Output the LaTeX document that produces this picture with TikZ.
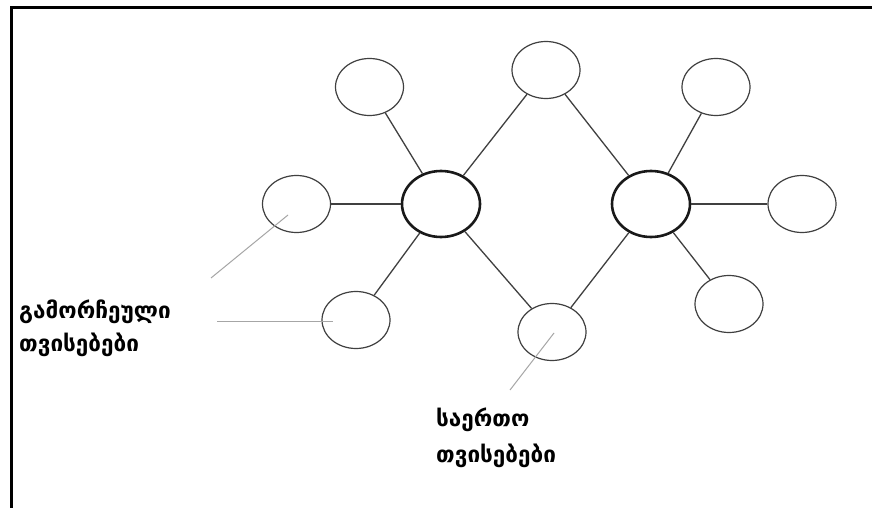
\documentclass[tikz,border=0pt]{standalone}
\usepackage{fontspec}
\newfontfamily\geo{DejaVu Sans}
\usetikzlibrary{shapes.geometric}
\begin{document}
\begin{tikzpicture}[x=1pt,y=-1pt,
  small/.style={ellipse,draw=black!75,line width=1.2pt,minimum width=68pt,minimum height=57pt,inner sep=0pt},
  hub/.style={ellipse,draw=black!90,line width=2.6pt,minimum width=78pt,minimum height=66pt,inner sep=0pt},
  link/.style={draw=black!75,line width=1.3pt},
  pointer/.style={draw=black!35,line width=1pt},
  lbl/.style={font=\geo\bfseries\fontsize{22.5}{33}\selectfont,anchor=base west,align=left,inner sep=0pt}]
\useasboundingbox (0,0) rectangle (872,508);
\fill[white] (0,0) rectangle (872,508);
\draw[line width=3.5pt] (11.5,508) -- (11.5,7.5) -- (872,7.5);
\node[hub] (h1) at (441,204) {};
\node[hub] (h2) at (651,204) {};
\node[small] (tl) at (369.5,87) {};
\node[small] (tc) at (546,70) {};
\node[small] (l) at (296.5,204) {};
\node[small] (ll) at (356,320) {};
\node[small] (bc) at (552,332) {};
\node[small] (tr) at (716,87) {};
\node[small] (r) at (802,204) {};
\node[small] (lr) at (729,304) {};
\foreach \a/\b in {h1/tl,h1/tc,h1/l,h1/ll,h1/bc,h2/tc,h2/tr,h2/r,h2/lr,h2/bc}
  \path[link] (\a) -- (\b);
\coordinate (p1a) at (211,278);
\coordinate (p1b) at (288,215);
\coordinate (p2a) at (217,321.5);
\coordinate (p2b) at (333,321.5);
\coordinate (p3a) at (510,390);
\coordinate (p3b) at (554,333);
\draw[pointer] (p1a) -- (p1b);
\draw[pointer] (p2a) -- (p2b);
\draw[pointer] (p3a) -- (p3b);
\node[lbl] (t1) at (19,351) {გამორჩეული\\თვისებები};
\node[lbl,font=\geo\bfseries\fontsize{22.5}{36}\selectfont] (t2) at (436,462) {საერთო\\თვისებები};
\end{tikzpicture}
\end{document}
